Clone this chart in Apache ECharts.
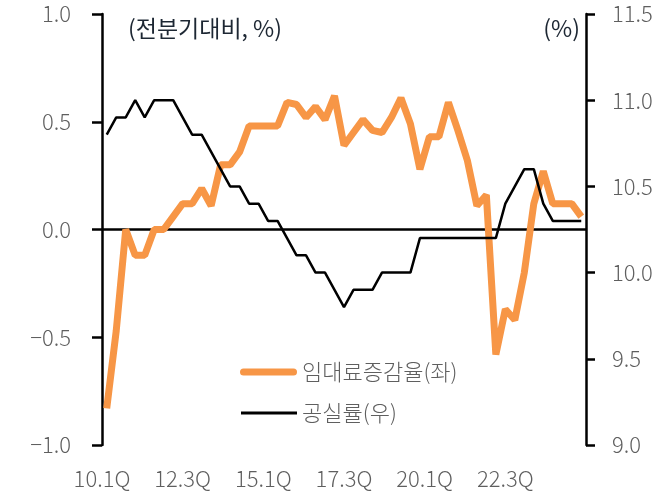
<!DOCTYPE html>
<html>
<head>
<meta charset="utf-8">
<script src="https://cdn.jsdelivr.net/npm/echarts@6/dist/echarts.min.js"></script>
<style>
  html, body { margin: 0; padding: 0; background: #fff; }
  #chart { width: 671px; height: 500px; }
</style>
</head>
<body>
<div id="chart"></div>
<script>
// quarters 2010 Q1 .. 2022 Q3
const quarters = [
  "10.1Q", "10.2Q", "10.3Q", "10.4Q", "11.1Q", "11.2Q", "11.3Q", "11.4Q",
  "12.1Q", "12.2Q", "12.3Q", "12.4Q", "13.1Q", "13.2Q", "13.3Q", "13.4Q",
  "14.1Q", "14.2Q", "14.3Q", "14.4Q", "15.1Q", "15.2Q", "15.3Q", "15.4Q",
  "16.1Q", "16.2Q", "16.3Q", "16.4Q", "17.1Q", "17.2Q", "17.3Q", "17.4Q",
  "18.1Q", "18.2Q", "18.3Q", "18.4Q", "19.1Q", "19.2Q", "19.3Q", "19.4Q",
  "20.1Q", "20.2Q", "20.3Q", "20.4Q", "21.1Q", "21.2Q", "21.3Q", "21.4Q",
  "22.1Q", "22.2Q", "22.3Q"
];
// 임대료증감율 (left axis, 전분기대비 %)
const rentChange = [
  -0.83, -0.47, 0.0, -0.12, -0.12, 0.0, 0.0, 0.06, 0.12, 0.12,
  0.19, 0.11, 0.30, 0.30, 0.36, 0.48, 0.48, 0.48, 0.48, 0.59,
  0.58, 0.52, 0.57, 0.51, 0.62, 0.39, 0.45, 0.51, 0.46, 0.45,
  0.52, 0.61, 0.49, 0.28, 0.43, 0.43, 0.59, 0.46, 0.32, 0.11,
  0.16, -0.58, -0.37, -0.42, -0.20, 0.12, 0.27, 0.12, 0.12, 0.12, 0.06
];
// 공실률 (right axis, %)
const vacancy = [
  10.8, 10.9, 10.9, 11.0, 10.9, 11.0, 11.0, 11.0, 10.9, 10.8,
  10.8, 10.7, 10.6, 10.5, 10.5, 10.4, 10.4, 10.3, 10.3, 10.2,
  10.1, 10.1, 10.0, 10.0, 9.9, 9.8, 9.9, 9.9, 9.9, 10.0,
  10.0, 10.0, 10.0, 10.2, 10.2, 10.2, 10.2, 10.2, 10.2, 10.2,
  10.2, 10.2, 10.4, 10.5, 10.6, 10.6, 10.4, 10.3, 10.3, 10.3, 10.3
];
// bottom tick labels as they sit in the original
const tickLabels = ["10.1Q", "12.3Q", "15.1Q", "17.3Q", "20.1Q", "22.3Q", ""];

const font = "'Noto Sans CJK KR', 'Noto Sans', sans-serif";
const grey = "#5f5f5f";
const orange = "#F79646";

// legend icons: thick rounded bar / thin bar inside a 57x14 box
const iconThick = "path://M0,0M57,14M3.5,3.5H53.5A3.5,3.5,0,0,1,53.5,10.5H3.5A3.5,3.5,0,0,1,3.5,3.5Z";
const iconThin = "path://M0,0M57,14M1,5.6H57V8.4H1Z";

const chart = echarts.init(document.getElementById("chart"));
chart.setOption({
  animation: false,
  textStyle: { fontFamily: font },
  grid: { left: 102, right: 85, top: 14, bottom: 55 },
  legend: {
    orient: "vertical",
    left: 235,
    top: 356,
    itemWidth: 57,
    itemHeight: 14,
    itemGap: 19,
    textStyle: { fontSize: 22, color: grey, fontFamily: font, fontWeight: 300 },
    data: [
      { name: "임대료증감율(좌)", icon: iconThick, itemStyle: { color: orange, borderWidth: 0 } },
      { name: "공실률(우)", icon: iconThin, itemStyle: { color: "#000", borderWidth: 0 } },
    ],
  },
  graphic: [
    {
      type: "text",
      left: 128,
      top: 17,
      style: { text: "(전분기대비, %)", fill: "#1d2733", font: "23px " + font },
    },
    {
      type: "text",
      right: 91,
      top: 17,
      style: { text: "(%)", fill: "#1d2733", font: "23px " + font },
    },
  ],
  xAxis: [
    {
      type: "category",
      data: quarters,
      boundaryGap: true,
      show: false,
    },
    {
      type: "category",
      data: tickLabels,
      boundaryGap: false,
      position: "bottom",
      axisLine: { show: false },
      axisTick: { show: false },
      axisLabel: { interval: 0, fontSize: 22, fontWeight: 300, color: grey, margin: 23 },
    },
  ],
  yAxis: [
    {
      type: "value",
      min: -1,
      max: 1,
      interval: 0.5,
      splitLine: { show: false },
      axisLine: { show: true, lineStyle: { color: "#000", width: 2.5 } },
      axisTick: { show: true, length: 10, lineStyle: { color: "#000", width: 2.5 } },
      axisLabel: {
        fontSize: 22,
        fontWeight: 300,
        color: grey,
        margin: 31,
        formatter: (v) => v.toFixed(1).replace("-", "\u2212"),
      },
    },
    {
      type: "value",
      min: 9,
      max: 11.5,
      interval: 0.5,
      position: "right",
      splitLine: { show: false },
      axisLine: { show: true, lineStyle: { color: "#000", width: 2.5 } },
      axisTick: { show: true, length: 9, lineStyle: { color: "#000", width: 2.5 } },
      axisLabel: {
        fontSize: 22,
        fontWeight: 300,
        color: grey,
        margin: 26,
        formatter: (v) => v.toFixed(1),
      },
    },
  ],
  series: [
    {
      name: "임대료증감율(좌)",
      type: "line",
      xAxisIndex: 0,
      yAxisIndex: 0,
      data: rentChange,
      symbol: "none",
      lineStyle: { color: orange, width: 7 },
      itemStyle: { color: orange },
      z: 3,
      markLine: {
        silent: true,
        symbol: "none",
        label: { show: false },
        lineStyle: { color: "#000", width: 2.5, type: "solid" },
        data: [{ yAxis: 0 }],
        z: 2,
      },
    },
    {
      name: "공실률(우)",
      type: "line",
      xAxisIndex: 0,
      yAxisIndex: 1,
      data: vacancy,
      symbol: "none",
      lineStyle: { color: "#000", width: 2.5 },
      itemStyle: { color: "#000" },
      z: 4,
    },
  ],
});
</script>
</body>
</html>
